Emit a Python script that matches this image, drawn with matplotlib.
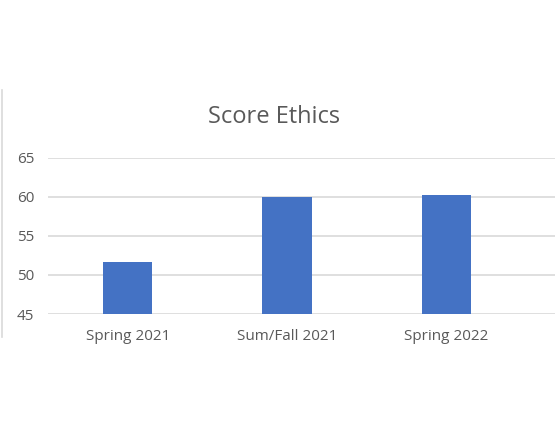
import matplotlib.pyplot as plt
from matplotlib.lines import Line2D

terms = ['Spring 2021', 'Sum/Fall 2021', 'Spring 2022']
scores = [51.7, 60.0, 60.25]
y_ticks = [45, 50, 55, 60, 65]

plt.rcParams['font.family'] = ['Open Sans', 'DejaVu Sans']

fig = plt.figure(figsize=(5.55, 4.44), dpi=100)
ax = fig.add_axes([48 / 555, 130 / 444, 507 / 555, 156 / 444])

x = list(range(len(terms)))
ax.bar(x, scores, width=0.31, color='#4472C4', zorder=3)

ax.set_xlim(-0.5, 2.68)
ax.set_ylim(45, 65)
ax.set_yticks(y_ticks)
ax.set_xticks(x)
ax.set_xticklabels(terms)
ax.yaxis.grid(True, color='#d9d9d9', linewidth=1.2, zorder=0)
ax.set_axisbelow(True)
for s in ax.spines.values():
    s.set_visible(False)
ax.tick_params(axis='both', length=0, labelsize=11, labelcolor='#595959')
ax.tick_params(axis='y', pad=10)
ax.tick_params(axis='x', pad=11)

fig.text(274 / 555, 1 - 117 / 444, 'Score Ethics', ha='center', va='center',
         fontsize=17, color='#595959')

# left border of the cropped chart area
fig.add_artist(Line2D([1.5 / 555, 1.5 / 555], [1 - 90 / 444, 1 - 337 / 444],
                      color='#d9d9d9', linewidth=1.2, transform=fig.transFigure))

fig.savefig('out.png', dpi=100)
